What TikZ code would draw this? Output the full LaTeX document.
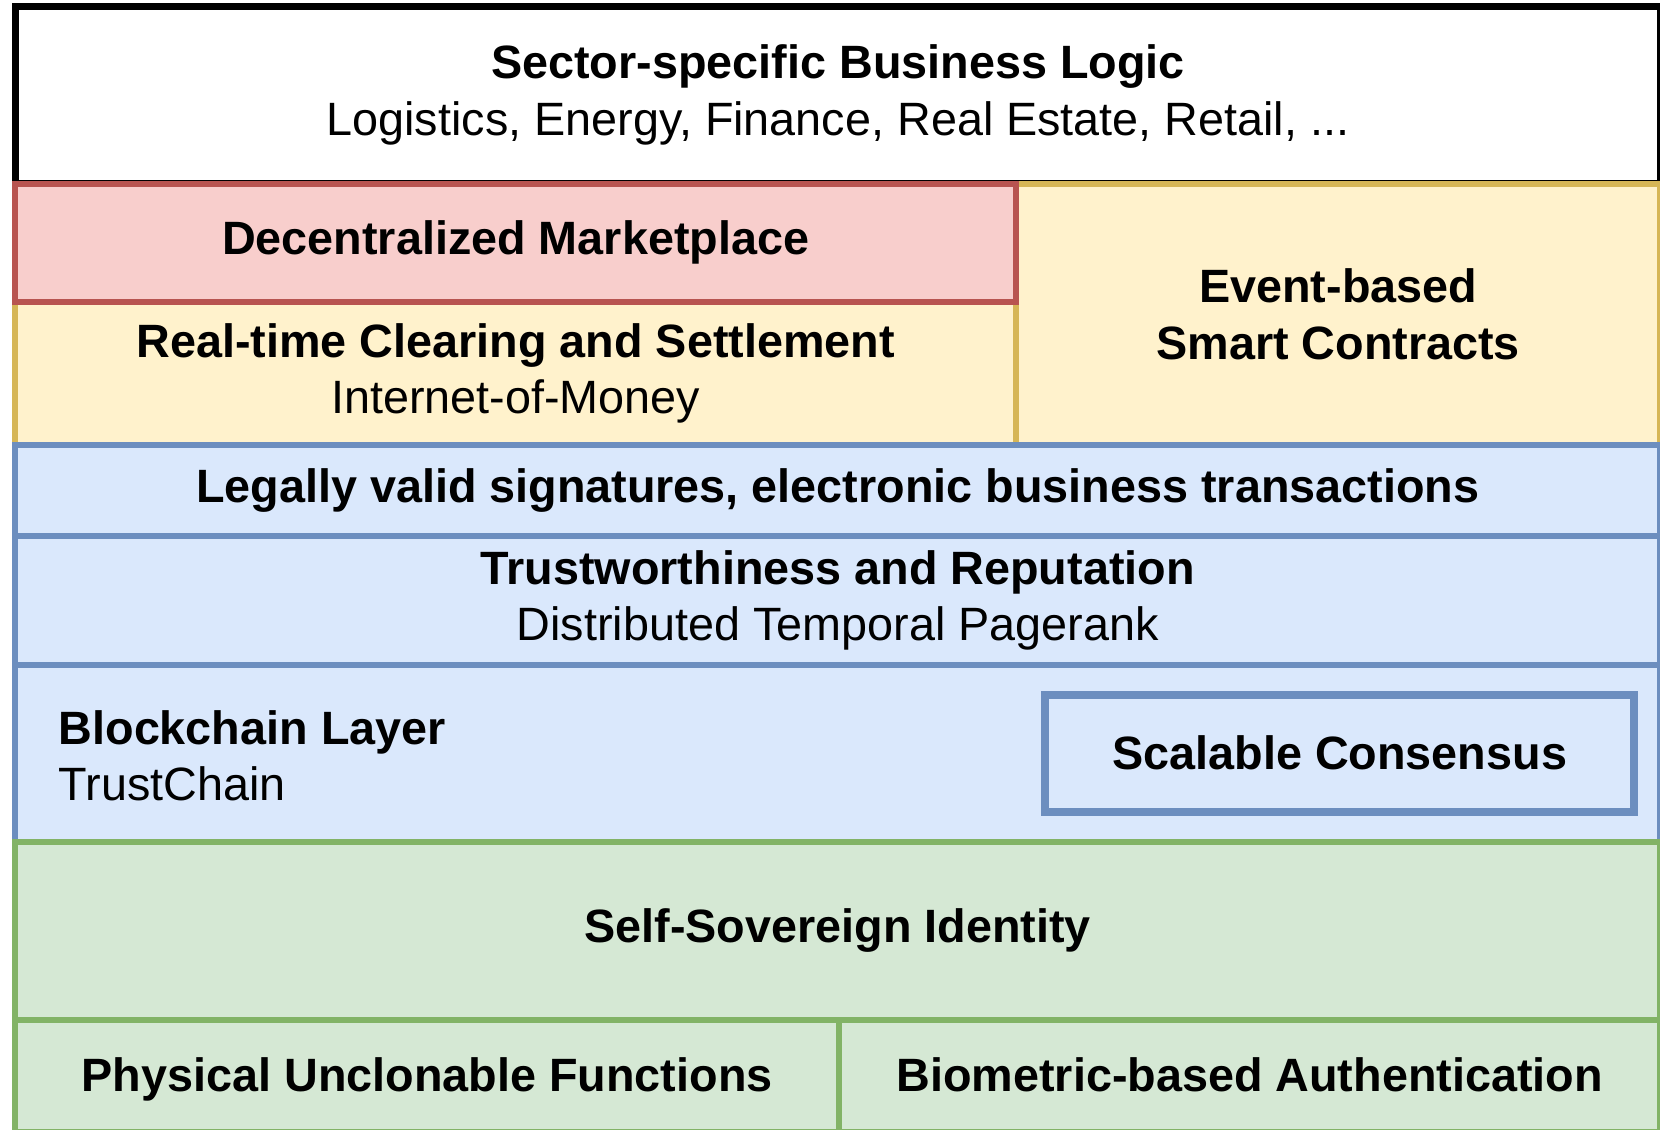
\documentclass[tikz,border=0pt]{standalone}
\usepackage{fontspec}
\setmainfont{Liberation Sans}
\usepackage{tikz}
\usetikzlibrary{calc}
\usetikzlibrary{positioning}

\definecolor{redline}{HTML}{B85450}
\definecolor{redfill}{HTML}{F8CECC}
\definecolor{yellowline}{HTML}{D6B656}
\definecolor{yellowfill}{HTML}{FFF2CC}
\definecolor{blueline}{HTML}{6C8EBF}
\definecolor{bluefill}{HTML}{DAE8FC}
\definecolor{greenline}{HTML}{82B366}
\definecolor{greenfill}{HTML}{D5E8D4}

\tikzset{
  layer/.style={rectangle, line width=1.8pt, inner sep=0pt, anchor=south west, align=center, font=\fontsize{13.3}{16}\selectfont},
  redlayer/.style={layer, draw=redline, fill=redfill},
  yellowlayer/.style={layer, draw=yellowline, fill=yellowfill},
  bluelayer/.style={layer, draw=blueline, fill=bluefill},
  greenlayer/.style={layer, draw=greenline, fill=greenfill},
  oneline/.style={text height=1.08em, text depth=0.2em},
}

\begin{document}
\begin{tikzpicture}
\clip (0,0) rectangle (16.6,11.3);
\fill[white] (0,0) rectangle (16.6,11.3);

% business logic on top
\node at (0.12,9.43)[layer, line width=2pt, draw=black, fill=white, minimum width=16.45cm, minimum height=1.77cm] (business) {\textbf{Sector-specific Business Logic}\\Logistics, Energy, Finance, Real Estate, Retail, ...};

\node at (10.13,6.82)[yellowlayer, minimum width=6.44cm, minimum height=2.61cm] (contracts) {\textbf{Event-based}\\\textbf{Smart Contracts}};
\node at (0.12,6.82)[yellowlayer, minimum width=10.01cm, minimum height=1.43cm] (clearing) {\textbf{Real-time Clearing and Settlement}\\Internet-of-Money};
\node at (0.12,8.25)[redlayer, minimum width=10.01cm, minimum height=1.18cm] (market) {\textbf{Decentralized Marketplace}};

% blockchain stack
\node at (0.12,5.91)[bluelayer, minimum width=16.45cm, minimum height=0.91cm] (legal) {\textbf{Legally valid signatures, electronic business transactions}};
\node at (0.12,4.62)[bluelayer, minimum width=16.45cm, minimum height=1.29cm] (trust) {\textbf{Trustworthiness and Reputation}\\Distributed Temporal Pagerank};
\node at (0.12,2.85)[bluelayer, minimum width=16.45cm, minimum height=1.77cm] (chain) {};
\node (chainlabel) [right, align=left, inner sep=0pt, font=\fontsize{13.3}{16}\selectfont] at (0.58,3.74) {\textbf{Blockchain Layer}\\TrustChain};
\node at (10.41,3.14)[bluelayer, line width=2.4pt, minimum width=5.89cm, minimum height=1.17cm] (consensus) {\textbf{Scalable Consensus}};

% identity
\node at (0.12,1.07)[greenlayer, minimum width=16.45cm, minimum height=1.78cm] (identity) {\textbf{Self-Sovereign Identity}};
\node at (0.12,-0.05)[greenlayer, oneline, minimum width=8.24cm, minimum height=1.12cm] (puf) {\textbf{Physical Unclonable Functions}};
\node at (8.36,-0.05)[greenlayer, oneline, minimum width=8.21cm, minimum height=1.12cm] (biometric) {\textbf{Biometric-based Authentication}};
\end{tikzpicture}
\end{document}
